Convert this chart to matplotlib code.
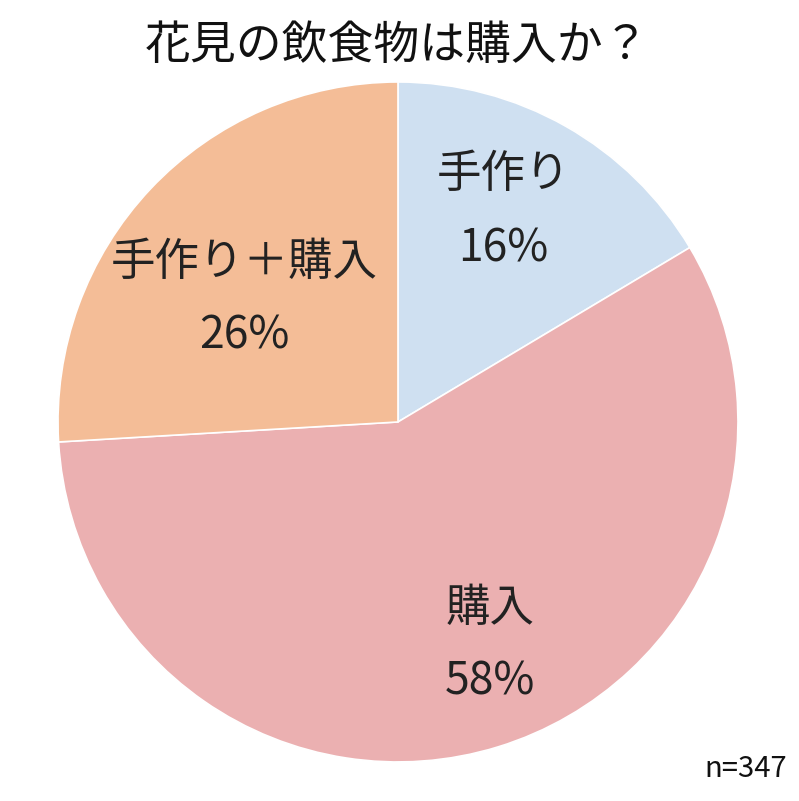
import matplotlib.pyplot as plt

plt.rcParams['font.family'] = ['Noto Sans CJK JP', 'DejaVu Sans']

labels = ["手作り", "購入", "手作り＋購入"]
counts = [57, 200, 90]
colors = ["#CFE0F1", "#EBB0B1", "#F4BD97"]
# label centres in axes data units (pie radius = 1)
label_pos = [(0.31, 0.62), (0.27, -0.655), (-0.452, 0.362)]

fig = plt.figure(figsize=(7.99, 8.01), dpi=100)
ax = fig.add_axes([0.0726, 0.0487, 0.851, 0.849])

wedges, _ = ax.pie(counts, colors=colors, startangle=90, counterclock=False,
                   wedgeprops=dict(edgecolor="white", linewidth=1.2))
ax.set_xlim(-1, 1)
ax.set_ylim(-1, 1)
ax.set_aspect("equal")

total = sum(counts)
for lab, c, (x, y) in zip(labels, counts, label_pos):
    pct = round(c / total * 100)
    ax.text(x, y, f"{lab}\n{pct}%", ha="center", va="center",
            fontsize=32, linespacing=1.78, color="#222222")

fig.text(0.497, 0.943, "花見の飲食物は購入か？", ha="center", va="center",
         fontsize=33, color="#111111")
fig.text(0.985, 0.04, f"n={total}", ha="right", va="center",
         fontsize=21, color="#111111")

fig.savefig("out.png", dpi=100)
